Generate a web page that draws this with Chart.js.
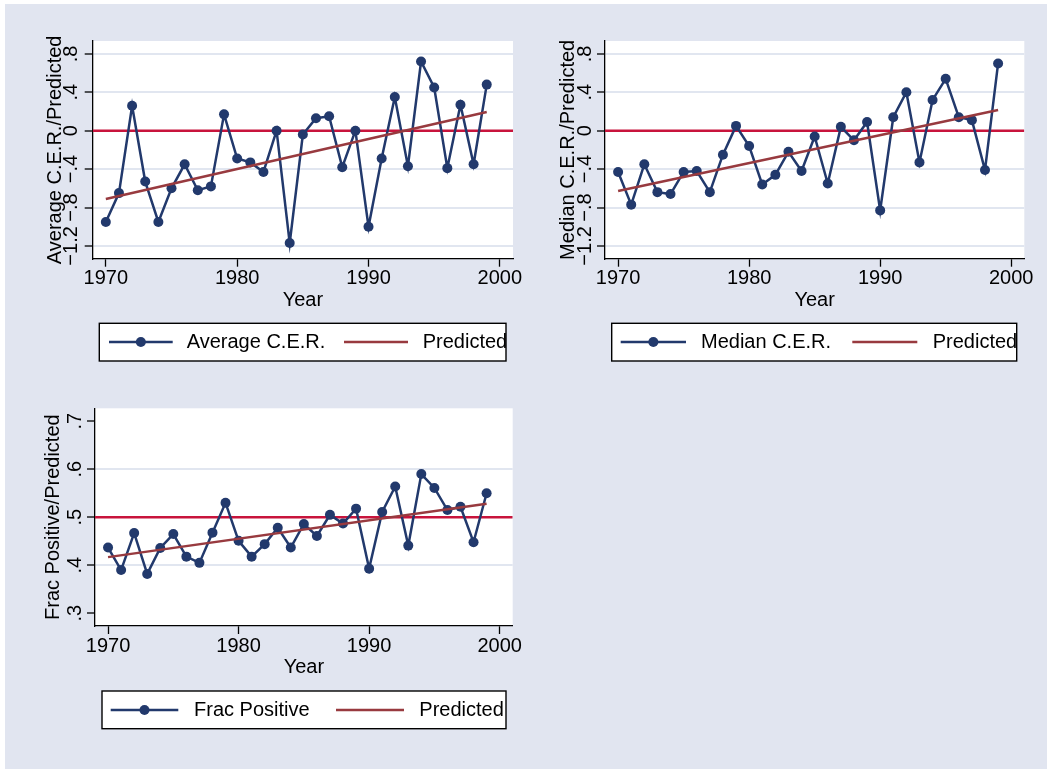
<!DOCTYPE html>
<html>
<head>
<meta charset="utf-8">
<title>C.E.R. by year</title>
<script src="https://cdn.jsdelivr.net/npm/chart.js@4.4.1/dist/chart.umd.min.js"></script>
<style>
  html, body { margin: 0; padding: 0; background: #ffffff; width: 1047px; height: 769px; overflow: hidden; }
  #frame { position: absolute; left: 5px; top: 4px; right: 0; bottom: 0; background: #e1e5f0; }
  canvas { position: absolute; left: 0; top: 0; }
</style>
</head>
<body>
<div id="frame"></div>
<canvas id="avgChart" width="1047" height="769"></canvas>
<canvas id="medChart" width="1047" height="769"></canvas>
<canvas id="fracChart" width="1047" height="769"></canvas>
<script>
// ---- data ----
const years = [1970, 1971, 1972, 1973, 1974, 1975, 1976, 1977, 1978, 1979,
               1980, 1981, 1982, 1983, 1984, 1985, 1986, 1987, 1988, 1989,
               1990, 1991, 1992, 1993, 1994, 1995, 1996, 1997, 1998, 1999];

const avgCER = [-0.95, -0.65, 0.26, -0.53, -0.95, -0.60, -0.35, -0.62, -0.58, 0.17,
                -0.29, -0.33, -0.43, 0.00, -1.17, -0.04, 0.13, 0.15, -0.38, 0.00,
                -1.00, -0.29, 0.35, -0.37, 0.72, 0.45, -0.39, 0.27, -0.35, 0.48];

const medCER = [-0.43, -0.77, -0.35, -0.64, -0.66, -0.43, -0.42, -0.64, -0.25, 0.05,
                -0.16, -0.56, -0.46, -0.22, -0.42, -0.06, -0.55, 0.04, -0.10, 0.09,
                -0.83, 0.14, 0.40, -0.33, 0.32, 0.54, 0.14, 0.11, -0.41, 0.70];

const fracPositive = [0.437, 0.390, 0.467, 0.382, 0.436, 0.465, 0.418, 0.405, 0.468, 0.530,
                      0.451, 0.418, 0.444, 0.478, 0.437, 0.486, 0.461, 0.505, 0.487, 0.518,
                      0.393, 0.511, 0.564, 0.441, 0.590, 0.561, 0.515, 0.522, 0.448, 0.550];

// fitted trend lines (end points)
const predYears = [1970, 1999];
const predAvg = [-0.711, 0.195];
const predMed = [-0.628, 0.216];
const predFrac = [0.417, 0.528];

// reference lines
const refCER = 0;
const refFrac = 0.5;

// axes
const xTicks = [1970, 1980, 1990, 2000];
const xRange = [1969, 2001];
const cerTicks = [-1.2, -0.8, -0.4, 0, 0.4, 0.8];
const cerTickLabels = ['−1.2', '−.8', '−.4', '0', '.4', '.8'];
const cerRange = [-1.333, 0.934];
const fracTicks = [0.3, 0.4, 0.5, 0.6, 0.7];
const fracTickLabels = ['.3', '.4', '.5', '.6', '.7'];
const fracRange = [0.2735, 0.727];

// ---- style ----
const FONT = "'Liberation Sans', Arial, Helvetica, sans-serif";
const FSIZE = 20;
const NAVY = '#22396c';
const MAROON = '#983a3f';
const CRIMSON = '#c8143c';
const GRID = '#e1e6f0';
const TICKLEN = 8;

Chart.defaults.font.family = FONT;
Chart.defaults.font.size = FSIZE;
Chart.defaults.color = '#000';

function textWidth(t) {
  const c = document.createElement('canvas').getContext('2d');
  c.font = FSIZE + 'px ' + FONT;
  return c.measureText(t).width;
}

// white plot region
const plotBg = {
  id: 'plotBg',
  beforeDraw(chart) {
    const { ctx, chartArea: a } = chart;
    ctx.save();
    ctx.fillStyle = '#ffffff';
    ctx.fillRect(a.left, a.top, a.right - a.left, a.bottom - a.top);
    ctx.restore();
  }
};

// boxed legend below each panel
const boxLegend = {
  id: 'boxLegend',
  afterDraw(chart, args, o) {
    const ctx = chart.ctx;
    const [x1, y1, x2, y2] = o.box;
    ctx.save();
    ctx.fillStyle = '#ffffff';
    ctx.fillRect(x1, y1, x2 - x1, y2 - y1);
    ctx.beginPath();
    ctx.rect(x1, y1, x2 - x1, y2 - y1);
    ctx.clip();
    o.entries.forEach(e => {
      const ds = chart.data.datasets[e.dataset];
      ctx.strokeStyle = ds.borderColor;
      ctx.lineWidth = ds.borderWidth;
      ctx.beginPath();
      ctx.moveTo(e.line[0], o.y);
      ctx.lineTo(e.line[1], o.y);
      ctx.stroke();
      if (ds.pointRadius > 0) {
        ctx.fillStyle = ds.pointBackgroundColor;
        ctx.beginPath();
        ctx.arc((e.line[0] + e.line[1]) / 2, o.y, ds.pointRadius, 0, Math.PI * 2);
        ctx.fill();
      }
      ctx.fillStyle = '#000';
      ctx.font = FSIZE + 'px ' + FONT;
      ctx.textBaseline = 'middle';
      ctx.textAlign = 'left';
      ctx.fillText(ds.label, e.textX, o.y);
    });
    ctx.restore();
    ctx.save();
    ctx.strokeStyle = '#000';
    ctx.lineWidth = 1.4;
    ctx.strokeRect(x1, y1, x2 - x1, y2 - y1);
    ctx.restore();
  }
};

function makePanel(id, p) {
  const widest = Math.max(...p.yLabels.map(textWidth));
  const tickPad = p.labelOffset - TICKLEN - widest / 2;
  const n = p.yTicks.length;
  new Chart(document.getElementById(id), {
    type: 'line',
    data: {
      datasets: [
        {
          label: p.label,
          data: years.map((yr, i) => ({ x: yr, y: p.values[i] })),
          borderColor: NAVY,
          backgroundColor: NAVY,
          pointBackgroundColor: NAVY,
          pointBorderWidth: 0,
          pointRadius: 5,
          borderWidth: 2.5,
          tension: 0,
          order: 1
        },
        {
          label: 'Predicted',
          data: predYears.map((yr, i) => ({ x: yr, y: p.pred[i] })),
          borderColor: MAROON,
          borderWidth: 2.5,
          pointRadius: 0,
          order: 0
        },
        {
          label: 'reference',
          data: xRange.map(yr => ({ x: yr, y: p.ref })),
          borderColor: CRIMSON,
          borderWidth: 2.5,
          pointRadius: 0,
          order: 2
        }
      ]
    },
    options: {
      responsive: false,
      animation: false,
      events: [],
      layout: { autoPadding: false, padding: p.pad },
      plugins: {
        legend: { display: false },
        tooltip: { enabled: false },
        boxLegend: p.legend
      },
      scales: {
        x: {
          type: 'linear',
          min: xRange[0],
          max: xRange[1],
          afterBuildTicks: s => { s.ticks = xTicks.map(v => ({ value: v })); },
          afterFit: s => { s.height = p.xH; },
          grid: { drawOnChartArea: false, drawTicks: true, tickLength: TICKLEN, tickColor: '#000', tickWidth: 1.3 },
          border: { display: true, color: '#000', width: 1.3 },
          ticks: { color: '#000', padding: 0, maxRotation: 0, autoSkip: false, callback: v => String(v) },
          title: { display: true, text: 'Year', color: '#000', padding: 0 }
        },
        y: {
          type: 'linear',
          min: p.yRange[0],
          max: p.yRange[1],
          afterBuildTicks: s => { s.ticks = p.yTicks.map(v => ({ value: v })); },
          afterFit: s => { s.width = p.yW; },
          grid: {
            color: c => (p.skipEndGrid && (c.index === 0 || c.index === n - 1)) ? 'rgba(0,0,0,0)' : GRID,
            lineWidth: 2,
            drawTicks: true,
            tickLength: TICKLEN,
            tickColor: '#000',
            tickWidth: 1.3
          },
          border: { display: true, color: '#000', width: 1.3 },
          ticks: {
            color: '#000',
            minRotation: 90,
            maxRotation: 90,
            crossAlign: 'center',
            padding: tickPad,
            autoSkip: false,
            callback: (v, i) => p.yLabels[i]
          },
          title: { display: true, text: p.yTitle, color: '#000', padding: 0 }
        }
      }
    },
    plugins: [plotBg, boxLegend]
  });
}

makePanel('avgChart', {
  label: 'Average C.E.R.',
  yTitle: 'Average C.E.R./Predicted',
  values: avgCER, pred: predAvg, ref: refCER,
  yTicks: cerTicks, yLabels: cerTickLabels, yRange: cerRange,
  skipEndGrid: false,
  labelOffset: 21,
  yW: 49, xH: 54,
  pad: { left: 43.7, right: 534, top: 41, bottom: 456.3 },
  legend: {
    box: [99.3, 323.3, 506, 361], y: 342,
    entries: [
      { dataset: 0, line: [109, 172.7], textX: 186.7 },
      { dataset: 1, line: [344, 408], textX: 422.7 }
    ]
  }
});

makePanel('medChart', {
  label: 'Median C.E.R.',
  yTitle: 'Median C.E.R./Predicted',
  values: medCER, pred: predMed, ref: refCER,
  yTicks: cerTicks, yLabels: cerTickLabels, yRange: cerRange,
  skipEndGrid: false,
  labelOffset: 20,
  yW: 49, xH: 54,
  pad: { left: 556, right: 22.7, top: 41, bottom: 456.3 },
  legend: {
    box: [611.7, 323.3, 1016.7, 361], y: 342,
    entries: [
      { dataset: 0, line: [620.7, 686], textX: 701 },
      { dataset: 1, line: [852.3, 917.3], textX: 932.7 }
    ]
  }
});

makePanel('fracChart', {
  label: 'Frac Positive',
  yTitle: 'Frac Positive/Predicted',
  values: fracPositive, pred: predFrac, ref: refFrac,
  yTicks: fracTicks, yLabels: fracTickLabels, yRange: fracRange,
  skipEndGrid: true,
  labelOffset: 20,
  yW: 53.3, xH: 53.5,
  pad: { left: 41.7, right: 534.3, top: 408.3, bottom: 89.5 },
  legend: {
    box: [102, 691, 506, 728.7], y: 710,
    entries: [
      { dataset: 0, line: [110.7, 178.3], textX: 194 },
      { dataset: 1, line: [336, 404], textX: 419.3 }
    ]
  }
});
</script>
</body>
</html>
